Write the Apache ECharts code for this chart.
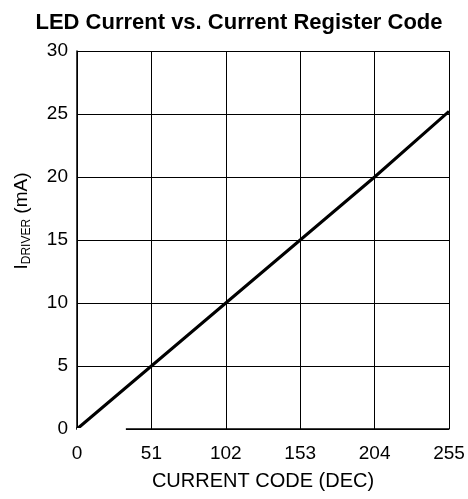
<!DOCTYPE html>
<html>
<head>
<meta charset="utf-8">
<script src="https://cdn.jsdelivr.net/npm/echarts@6/dist/echarts.min.js"></script>
<style>
  html, body { margin: 0; padding: 0; background: #fff; }
  #chart { width: 468px; height: 499px; }
</style>
</head>
<body>
<div id="chart"></div>
<script>
// current register code (dec) vs driver current (mA)
var codes = [0, 51, 102, 153, 204, 255];
var currents = [0, 5, 10, 15, 20, 25.2];
var xTicks = [0, 51, 102, 153, 204, 255];
var yTicks = [0, 5, 10, 15, 20, 25, 30];
// the bottom frame line is broken near the origin in the original plot
var axisGap = [0, 33.5];

var chart = echarts.init(document.getElementById("chart"));
var font = "Liberation Sans, Arial, sans-serif";

chart.setOption({
  animation: false,
  title: {
    text: "LED Current vs. Current Register Code",
    left: 234,
    textAlign: "center",
    top: 7,
    textStyle: { fontFamily: font, fontSize: 22, fontWeight: "bold", color: "#000" }
  },
  grid: { left: 77, right: 19, top: 51, bottom: 70 },
  xAxis: {
    type: "value",
    min: xTicks[0],
    max: xTicks[xTicks.length - 1],
    interval: 51,
    name: "CURRENT CODE (DEC)",
    nameLocation: "middle",
    nameGap: 42,
    nameTextStyle: { fontFamily: font, fontSize: 20, color: "#000" },
    axisLine: { lineStyle: { color: "#000", width: 1.5 } },
    axisTick: { show: false },
    axisLabel: { fontFamily: font, fontSize: 19, color: "#000", margin: 15 },
    splitLine: { show: true, lineStyle: { color: "#000", width: 1 } }
  },
  yAxis: {
    type: "value",
    min: yTicks[0],
    max: yTicks[yTicks.length - 1],
    interval: 5,
    name: "{a|I}{b|DRIVER}{a| (mA)}",
    nameLocation: "middle",
    nameGap: 44,
    nameRotate: 90,
    nameTextStyle: {
      fontFamily: font,
      color: "#000",
      padding: [0, 0, 0, 38],
      rich: {
        a: { fontFamily: font, fontSize: 19, color: "#000", lineHeight: 22 },
        b: { fontFamily: font, fontSize: 12, color: "#000", verticalAlign: "bottom", lineHeight: 13, padding: [9, 0, 0, 0] }
      }
    },
    axisLine: { show: true, lineStyle: { color: "#000", width: 1.5 } },
    axisTick: { show: false },
    axisLabel: { fontFamily: font, fontSize: 19, color: "#000", margin: 9 },
    splitLine: { show: true, lineStyle: { color: "#000", width: 1 } }
  },
  series: [
    {
      type: "line",
      data: [],
      z: 1,
      silent: true,
      markLine: {
        symbol: "none",
        silent: true,
        label: { show: false },
        lineStyle: { color: "#fff", width: 3, type: "solid" },
        data: [[{ coord: [axisGap[0], 0] }, { coord: [axisGap[1], 0] }]]
      }
    },
    {
      type: "line",
      z: 3,
      data: codes.map(function (c, i) { return [c, currents[i]]; }),
      symbol: "none",
      lineStyle: { color: "#000", width: 3 }
    }
  ]
});
</script>
</body>
</html>
